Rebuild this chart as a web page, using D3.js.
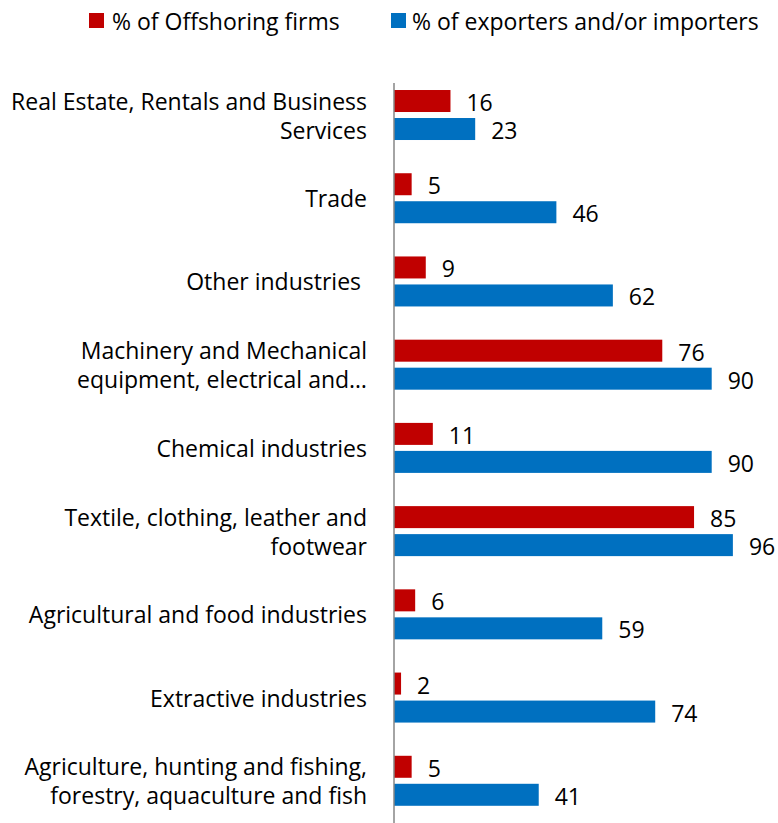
<!DOCTYPE html>
<html><head><meta charset="utf-8">
<script src="https://cdn.jsdelivr.net/npm/d3@7"></script>
<style>body{margin:0;background:#fff;} text{font-family:"Open Sans",sans-serif;fill:#000;}</style>
</head><body><svg id="c" width="778" height="823"></svg>
<script>
const categories = [
  ["Real Estate, Rentals and Business","Services"],
  ["Trade"],
  ["Other industries "],
  ["Machinery and Mechanical","equipment, electrical and…"],
  ["Chemical industries"],
  ["Textile, clothing, leather and","footwear"],
  ["Agricultural and food industries"],
  ["Extractive industries"],
  ["Agriculture, hunting and fishing,","forestry, aquaculture and fish"]
];
const offshoring = [16,5,9,76,11,85,6,2,5];
const traders = [23,46,62,90,90,96,59,74,41];
const seriesNames = ["% of Offshoring firms","% of exporters and/or importers"];
const colors = ["#C00000","#0070C0"];

const svg = d3.select("#c");
const fs = 23;
const x = d3.scaleLinear().domain([0,100]).range([394, 394+353]);
const y = d3.scaleBand().domain(d3.range(categories.length)).range([73.4, 822.4]);
const sub = d3.scaleBand().domain([0,1]).range([-25,25]).paddingInner(2-50/28);

const data = categories.map((c,i)=>({i, vals:[offshoring[i], traders[i]]}));

const g = svg.append("g");
data.forEach(d=>{
  const cy = y(d.i)+y.bandwidth()/2;
  d.vals.forEach((v,s)=>{
    g.append("rect").attr("x",x(0)).attr("y",cy+sub(s)).attr("width",x(v)-x(0)).attr("height",sub.bandwidth()).attr("fill",colors[s]);
    g.append("text").attr("x",x(v)+16).attr("y",cy+sub(s)+sub.bandwidth()/2+1).attr("dominant-baseline","central").attr("font-size",fs).text(v);
  });
  const lines = categories[d.i];
  const lh = 29;
  lines.forEach((t,k)=>{
    g.append("text").attr("x",367).attr("y",cy + (k-(lines.length-1)/2)*lh).attr("text-anchor","end").attr("dominant-baseline","central").attr("font-size",fs).style("white-space","pre").text(t);
  });
});

svg.append("line").attr("x1",x(0)).attr("x2",x(0)).attr("y1",83).attr("y2",823).attr("stroke","#868686").attr("stroke-width",1.5);

// legend
const leg = [{x:89,tx:112},{x:391,tx:412}];
seriesNames.forEach((n,s)=>{
  svg.append("rect").attr("x",leg[s].x).attr("y",13).attr("width",15).attr("height",15).attr("fill",colors[s]);
  svg.append("text").attr("x",leg[s].tx).attr("y",21).attr("dominant-baseline","central").attr("font-size",fs).text(n);
});
</script></body></html>
